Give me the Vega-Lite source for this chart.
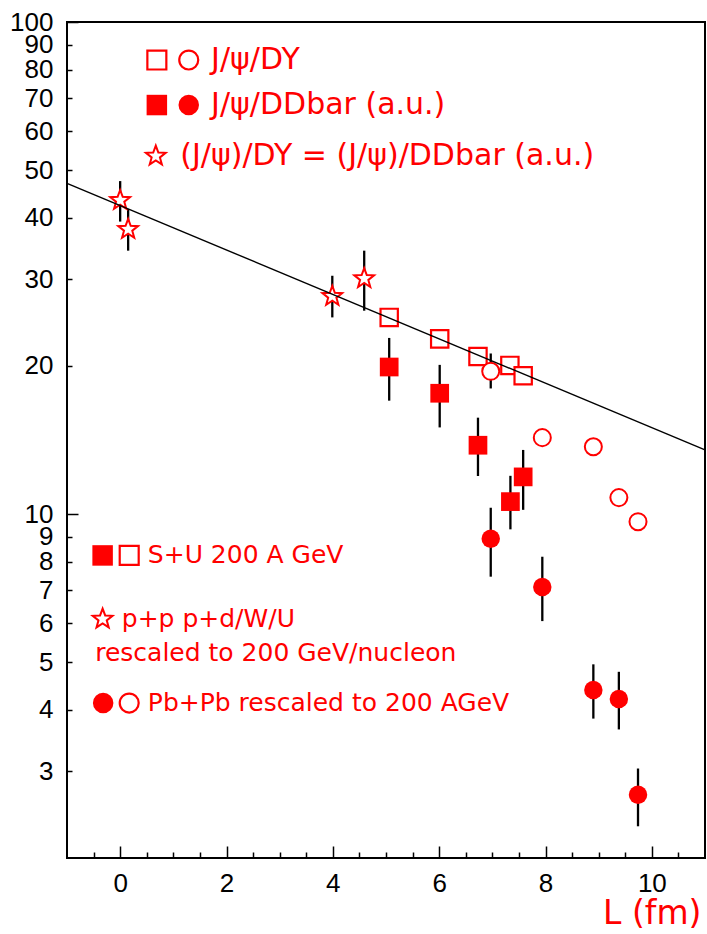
{
  "$schema": "https://vega.github.io/schema/vega-lite/v6.json",
  "width": 638,
  "height": 836,
  "autosize": {"type": "none"},
  "padding": {"left": 67, "top": 22, "right": 2, "bottom": 76},
  "background": "white",
  "config": {"view": {"stroke": "black", "strokeWidth": 2}, "font": "Liberation Sans"},
  "datasets": {
    "pts": [
      {"set": "star", "x": 0, "y": 43.4, "lo": 39.3, "hi": 47.5},
      {"set": "star", "x": 0.15, "y": 37.9, "lo": 34.3, "hi": 41.7},
      {"set": "star", "x": 3.99, "y": 27.7, "lo": 25.1, "hi": 30.5},
      {"set": "star", "x": 4.59, "y": 30.1, "lo": 25.9, "hi": 34.3},
      {"set": "su_dy", "x": 5.06, "y": 25.1, "lo": null, "hi": null},
      {"set": "su_dy", "x": 6.01, "y": 22.7, "lo": null, "hi": null},
      {"set": "su_dy", "x": 6.73, "y": 20.9, "lo": null, "hi": null},
      {"set": "su_dy", "x": 7.33, "y": 20.05, "lo": null, "hi": null},
      {"set": "su_dy", "x": 7.58, "y": 19.1, "lo": null, "hi": null},
      {"set": "su_dd", "x": 5.06, "y": 19.9, "lo": 17.0, "hi": 22.8},
      {"set": "su_dd", "x": 6.01, "y": 17.6, "lo": 15.0, "hi": 20.1},
      {"set": "su_dd", "x": 6.73, "y": 13.8, "lo": 11.95, "hi": 15.7},
      {"set": "su_dd", "x": 7.34, "y": 10.6, "lo": 9.31, "hi": 11.96},
      {"set": "su_dd", "x": 7.58, "y": 11.9, "lo": 10.2, "hi": 13.5},
      {"set": "pb_dy", "x": 6.97, "y": 19.5, "lo": 18.0, "hi": 21.2},
      {"set": "pb_dy", "x": 7.94, "y": 14.3, "lo": null, "hi": null},
      {"set": "pb_dy", "x": 8.9, "y": 13.7, "lo": null, "hi": null},
      {"set": "pb_dy", "x": 9.38, "y": 10.8, "lo": null, "hi": null},
      {"set": "pb_dy", "x": 9.74, "y": 9.65, "lo": null, "hi": null},
      {"set": "pb_dd", "x": 6.97, "y": 8.91, "lo": 7.46, "hi": 10.3},
      {"set": "pb_dd", "x": 7.94, "y": 7.11, "lo": 6.06, "hi": 8.19},
      {"set": "pb_dd", "x": 8.9, "y": 4.39, "lo": 3.84, "hi": 4.95},
      {"set": "pb_dd", "x": 9.38, "y": 4.21, "lo": 3.65, "hi": 4.78},
      {"set": "pb_dd", "x": 9.74, "y": 2.69, "lo": 2.32, "hi": 3.04}
    ],
    "fit": [{"x": -1, "y": 47.0}, {"x": 11, "y": 13.5}],
    "keys": [
      {"kind": "osq", "x": 0.69, "y": 83.7},
      {"kind": "ocirc", "x": 1.29, "y": 83.7},
      {"kind": "fsq", "x": 0.69, "y": 67.8},
      {"kind": "fcirc", "x": 1.29, "y": 67.8},
      {"kind": "star", "x": 0.67, "y": 53.4},
      {"kind": "fsq", "x": -0.33, "y": 8.24},
      {"kind": "osq", "x": 0.17, "y": 8.24},
      {"kind": "star", "x": -0.33, "y": 6.12},
      {"kind": "fcirc", "x": -0.32, "y": 4.13},
      {"kind": "ocirc", "x": 0.17, "y": 4.13}
    ],
    "notes": [
      {"grp": "top", "label": "J/ψ/DY", "x": 1.71, "y": 83.7},
      {"grp": "top", "label": "J/ψ/DDbar (a.u.)", "x": 1.71, "y": 67.8},
      {"grp": "top", "label": "(J/ψ)/DY = (J/ψ)/DDbar (a.u.)", "x": 1.13, "y": 53.4},
      {"grp": "bot", "label": "S+U 200 A GeV", "x": 0.52, "y": 8.24},
      {"grp": "bot", "label": "p+p p+d/W/U", "x": 0.03, "y": 6.12},
      {"grp": "bot", "label": "rescaled to 200 GeV/nucleon", "x": -0.47, "y": 5.22},
      {"grp": "bot", "label": "Pb+Pb rescaled to 200 AGeV", "x": 0.52, "y": 4.13}
    ]
  },
  "data": {"name": "pts"},
  "encoding": {
    "x": {
      "field": "x", "type": "quantitative",
      "scale": {"domain": [-1, 11], "nice": false, "zero": false},
      "axis": {
        "values": [-0.5, 0, 0.5, 1, 1.5, 2, 2.5, 3, 3.5, 4, 4.5, 5, 5.5, 6, 6.5, 7, 7.5, 8, 8.5, 9, 9.5, 10, 10.5],
        "labelExpr": "datum.value % 2 === 0 ? format(datum.value, 'd') : ''",
        "domain": false, "grid": false,
        "tickColor": "black", "tickWidth": 1.5,
        "tickSize": {"condition": {"test": "datum.value % 2 === 0", "value": -12}, "value": -6},
        "labelPadding": 24,
        "labelFont": "Liberation Sans", "labelFontSize": 26, "labelColor": "black",
        "labelFlush": false, "labelOverlap": false,
        "title": "L (fm)", "titleColor": "#ff0000", "titleFont": "DejaVu Sans",
        "titleFontSize": 33, "titleFontWeight": "normal",
        "titleAnchor": "end", "titleAlign": "right", "titleX": 634, "titleY": 65, "titleBaseline": "alphabetic"
      }
    },
    "y": {
      "field": "y", "type": "quantitative",
      "scale": {"type": "log", "domain": [2, 100], "nice": false},
      "axis": {
        "values": [3, 4, 5, 6, 7, 8, 9, 10, 20, 30, 40, 50, 60, 70, 80, 90, 100],
        "format": "d",
        "domain": false, "grid": false,
        "tickColor": "black", "tickWidth": 1.5,
        "tickSize": {"condition": {"test": "datum.value === 10 || datum.value === 100", "value": -11}, "value": -5},
        "labelPadding": {"condition": {"test": "datum.value === 10 || datum.value === 100", "value": 25}, "value": 19},
        "labelFont": "Liberation Sans", "labelFontSize": 26, "labelColor": "black",
        "labelFlush": false, "labelOverlap": false,
        "title": null
      }
    }
  },
  "layer": [
    {
      "transform": [{"filter": "datum.lo != null"}],
      "mark": {"type": "rule", "color": "black", "strokeWidth": 2.3},
      "encoding": {"y": {"field": "lo", "type": "quantitative"}, "y2": {"field": "hi"}}
    },
    {
      "transform": [{"filter": "datum.set === 'star'"}],
      "mark": {"type": "point", "shape": "M0,-1L0.247,-0.34L0.951,-0.309L0.399,0.13L0.588,0.809L0,0.42L-0.588,0.809L-0.399,0.13L-0.951,-0.309L-0.247,-0.34Z", "filled": true, "fill": "white", "stroke": "#ff0000", "strokeWidth": 2, "size": 430, "opacity": 1},
      "encoding": {}
    },
    {
      "transform": [{"filter": "datum.set === 'su_dy'"}],
      "mark": {"type": "point", "shape": "square", "filled": true, "fill": "white", "stroke": "#ff0000", "strokeWidth": 2.2, "size": 300, "opacity": 1},
      "encoding": {}
    },
    {
      "transform": [{"filter": "datum.set === 'pb_dy'"}],
      "mark": {"type": "point", "shape": "circle", "filled": true, "fill": "white", "stroke": "#ff0000", "strokeWidth": 2, "size": 290, "opacity": 1},
      "encoding": {}
    },
    {
      "transform": [{"filter": "datum.set === 'su_dd'"}],
      "mark": {"type": "point", "shape": "square", "filled": true, "color": "#ff0000", "size": 350, "opacity": 1},
      "encoding": {}
    },
    {
      "transform": [{"filter": "datum.set === 'pb_dd'"}],
      "mark": {"type": "point", "shape": "circle", "filled": true, "color": "#ff0000", "size": 340, "opacity": 1},
      "encoding": {}
    },
    {
      "data": {"name": "fit"},
      "mark": {"type": "line", "color": "black", "strokeWidth": 1.4},
      "encoding": {}
    },
    {
      "data": {"name": "keys"},
      "transform": [{"filter": "datum.kind === 'osq'"}],
      "mark": {"type": "point", "shape": "square", "filled": true, "fill": "white", "stroke": "#ff0000", "strokeWidth": 2.2, "size": 360, "opacity": 1},
      "encoding": {}
    },
    {
      "data": {"name": "keys"},
      "transform": [{"filter": "datum.kind === 'ocirc'"}],
      "mark": {"type": "point", "shape": "circle", "filled": true, "fill": "white", "stroke": "#ff0000", "strokeWidth": 2.2, "size": 360, "opacity": 1},
      "encoding": {}
    },
    {
      "data": {"name": "keys"},
      "transform": [{"filter": "datum.kind === 'fsq'"}],
      "mark": {"type": "point", "shape": "square", "filled": true, "color": "#ff0000", "size": 420, "opacity": 1},
      "encoding": {}
    },
    {
      "data": {"name": "keys"},
      "transform": [{"filter": "datum.kind === 'fcirc'"}],
      "mark": {"type": "point", "shape": "circle", "filled": true, "color": "#ff0000", "size": 420, "opacity": 1},
      "encoding": {}
    },
    {
      "data": {"name": "keys"},
      "transform": [{"filter": "datum.kind === 'star'"}],
      "mark": {"type": "point", "shape": "M0,-1L0.247,-0.34L0.951,-0.309L0.399,0.13L0.588,0.809L0,0.42L-0.588,0.809L-0.399,0.13L-0.951,-0.309L-0.247,-0.34Z", "filled": true, "fill": "white", "stroke": "#ff0000", "strokeWidth": 2, "size": 430, "opacity": 1},
      "encoding": {}
    },
    {
      "data": {"name": "notes"},
      "transform": [{"filter": "datum.grp === 'top'"}],
      "mark": {"type": "text", "align": "left", "baseline": "middle", "font": "DejaVu Sans", "fontSize": 30, "color": "#ff0000"},
      "encoding": {"text": {"field": "label"}}
    },
    {
      "data": {"name": "notes"},
      "transform": [{"filter": "datum.grp === 'bot'"}],
      "mark": {"type": "text", "align": "left", "baseline": "middle", "font": "DejaVu Sans", "fontSize": 25, "color": "#ff0000"},
      "encoding": {"text": {"field": "label"}}
    }
  ]
}
